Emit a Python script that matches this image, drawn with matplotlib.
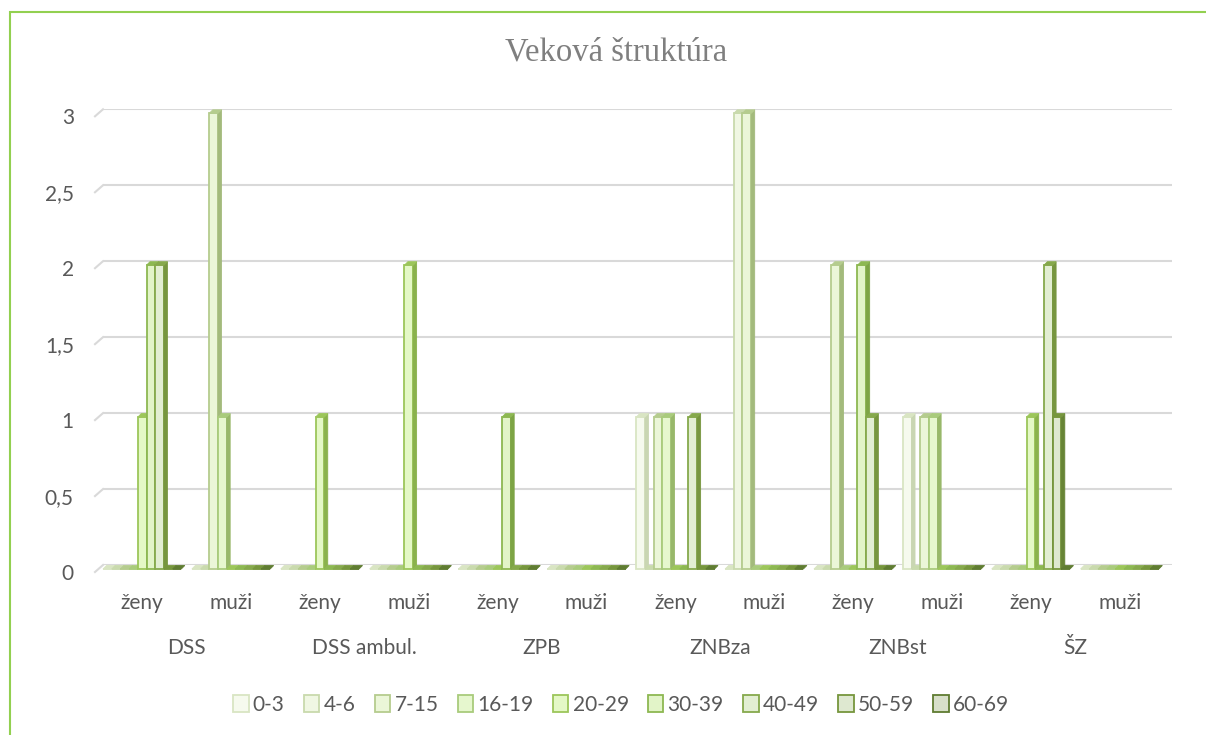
import matplotlib
matplotlib.use("Agg")
import matplotlib.pyplot as plt
from matplotlib.patches import Rectangle
from matplotlib.transforms import ScaledTranslation

plt.rcParams['font.family'] = ['Lato', 'DejaVu Sans']

# ---- data ----
facilities = ["DSS", "DSS ambul.", "ZPB", "ZNBza", "ZNBst", "ŠZ"]
genders = ["ženy", "muži"]
age_groups = ["0-3", "4-6", "7-15", "16-19", "20-29", "30-39", "40-49", "50-59", "60-69"]
# values per age group across the 12 (facility, gender) groups
v_0_3   = [0, 0, 0, 0, 0, 0, 1, 0, 0, 1, 0, 0]
v_4_6   = [0, 0, 0, 0, 0, 0, 0, 3, 0, 0, 0, 0]
v_7_15  = [0, 3, 0, 0, 0, 0, 1, 3, 2, 1, 0, 0]
v_16_19 = [0, 1, 0, 0, 0, 0, 1, 0, 0, 1, 0, 0]
v_20_29 = [1, 0, 1, 2, 0, 0, 0, 0, 0, 0, 1, 0]
v_30_39 = [2, 0, 0, 0, 1, 0, 0, 0, 2, 0, 0, 0]
v_40_49 = [2, 0, 0, 0, 0, 0, 1, 0, 1, 0, 2, 0]
v_50_59 = [0, 0, 0, 0, 0, 0, 0, 0, 0, 0, 1, 0]
v_60_69 = [0, 0, 0, 0, 0, 0, 0, 0, 0, 0, 0, 0]
series = [v_0_3, v_4_6, v_7_15, v_16_19, v_20_29, v_30_39, v_40_49, v_50_59, v_60_69]
y_ticks = [0, 0.5, 1, 1.5, 2, 2.5, 3]
y_tick_labels = ["0", "0,5", "1", "1,5", "2", "2,5", "3"]

edge_colors = ["#D9E5C3", "#C9DAAD", "#B5CC8E", "#A9CB7C", "#9CC65A", "#8DB852",
               "#86A94C", "#76963D", "#5F7C31"]
fill_colors = ["#F6FAEE", "#F0F7E3", "#EBF6D8", "#E6F7CE", "#E4F8C6", "#E2F4C8",
               "#E2EED2", "#DEE8D0", "#D7DFC9"]
side_colors = ["#C9D6B2", "#B8CA9A", "#A3BA7C", "#98B86A", "#8AB24C", "#7DA445",
               "#77963F", "#678435", "#526C29"]

W, H = 1206, 735
fig = plt.figure(figsize=(W / 100, H / 100), dpi=100)
fig.patch.set_facecolor("white")

ax_left, ax_right = 103, 1172
y0_px, y3_px = 565, 109.3
ax = fig.add_axes([ax_left / W, (H - y0_px) / H, (ax_right - ax_left) / W, (y0_px - y3_px) / H])

gpx = 88.87
bar_w = 8.7 / gpx
n_groups = len(facilities) * len(genders)
x_min = -4.5 * bar_w
x_max = x_min + (ax_right - ax_left) / gpx
ax.set_xlim(x_min, x_max)
ax.set_ylim(0, 3)
ypx = (y0_px - y3_px) / 3.0

dx = 3.5 / gpx
dy = 3.5 / ypx
y_off = -4 / ypx

for i, (vals, lab) in enumerate(zip(series, age_groups)):
    xs = [g + (i - 4.5) * bar_w for g in range(n_groups)]
    ax.bar(xs, vals, width=bar_w, bottom=y_off, align='edge', color=fill_colors[i],
           edgecolor=edge_colors[i], linewidth=1.3, label=lab, zorder=3 + i * 0.1,
           clip_on=False)
    for x, v in zip(xs, vals):
        z = 3 + i * 0.1 + 0.05
        top = y_off + v
        # top face
        ax.fill([x, x + bar_w, x + bar_w + dx, x + dx], [top, top, top + dy, top + dy],
                facecolor=edge_colors[i], edgecolor=edge_colors[i], linewidth=0.6,
                zorder=z, clip_on=False)
        if v > 0:
            ax.fill([x + bar_w, x + bar_w + dx, x + bar_w + dx, x + bar_w],
                    [y_off, y_off + dy, top + dy, top],
                    facecolor=side_colors[i], edgecolor=side_colors[i], linewidth=0.6,
                    zorder=z - 0.02, clip_on=False)

# gridlines + left diagonal stubs
for yv in y_ticks:
    ax.axhline(yv, color="#D9D9D9", linewidth=1.5, zorder=1)
    ax.plot([x_min, x_min - 8 / gpx], [yv, yv - 7 / ypx], color="#D9D9D9",
            linewidth=1.5, clip_on=False, zorder=1)

for s in ax.spines.values():
    s.set_visible(False)
ax.set_facecolor("none")

ax.set_yticks(y_ticks)
ax.set_yticklabels(y_tick_labels)
ax.tick_params(axis='y', length=0, pad=21, labelsize=15, labelcolor="#595959")
shift = ScaledTranslation(0, -7 / 100, fig.dpi_scale_trans)
for lbl in ax.get_yticklabels():
    lbl.set_transform(lbl.get_transform() + shift)

ax.set_xticks([])
for g in range(n_groups):
    ax.annotate(genders[g % 2], xy=(g, 0), xycoords=('data', 'axes fraction'),
                xytext=(0, -38 * 0.72), textcoords='offset points',
                ha='center', va='center', fontsize=15, color="#595959")
for k, fac in enumerate(facilities):
    ax.annotate(fac, xy=(2 * k + 0.5, 0), xycoords=('data', 'axes fraction'),
                xytext=(0, -83 * 0.72), textcoords='offset points',
                ha='center', va='center', fontsize=15, color="#595959")

fig.text(616 / W, 1 - 52 / H, "Veková štruktúra", ha='center', va='center',
         fontsize=23.5, color="#7F7F7F", family=['Liberation Serif', 'DejaVu Serif'])

handles, labels = ax.get_legend_handles_labels()
fig.legend(handles, labels, loc='center', bbox_to_anchor=(621 / W, 1 - 705 / H), ncol=9,
           frameon=False, fontsize=15, handlelength=0.75, handleheight=0.85,
           handletextpad=0.2, columnspacing=0.92, labelcolor="#595959")

# outer green border (partially cut by the image edge)
fig.patches.append(Rectangle((10 / W, -0.1), 1.2, (H - 12) / H + 0.1,
                             transform=fig.transFigure, fill=False,
                             edgecolor="#92D050", linewidth=1.5))

fig.savefig("out.png", dpi=100)
